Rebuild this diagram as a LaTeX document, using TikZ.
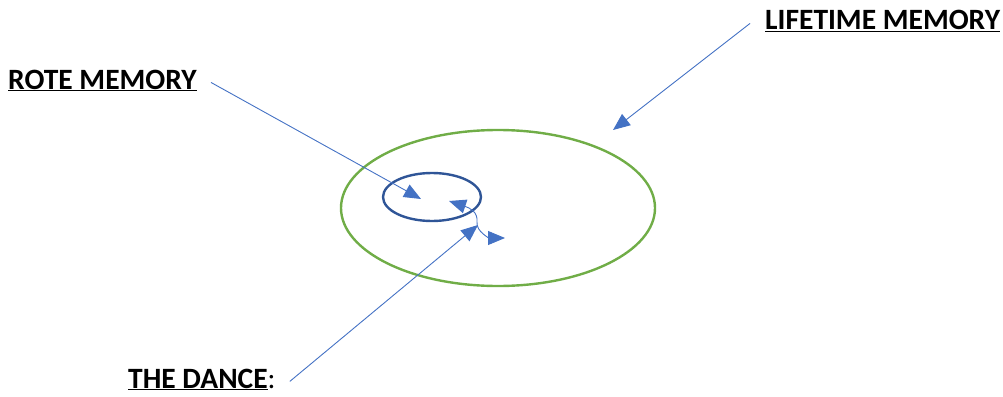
\documentclass[tikz,border=0pt]{standalone}
\usepackage{fontspec}
\setmainfont{Carlito}
\usepackage{tikz}
\usetikzlibrary{arrows.meta,positioning,calc}
\definecolor{lifegreen}{HTML}{70AD47}
\definecolor{rotenavy}{HTML}{2F5597}
\definecolor{pointblue}{HTML}{4472C4}

\begin{document}
\begin{tikzpicture}[x=1pt,y=-1pt,
	lbl/.style={font=\fontsize{29.5}{34}\selectfont\bfseries,inner sep=0pt,anchor=base west},
	ring/.style={line width=2.4pt},
	pointer/.style={draw=pointblue,line width=0.9pt,-{Triangle[length=17pt,width=14pt]}}
	]
	\useasboundingbox (0,0) rectangle (1003,396);
	% memory rings
	\draw[ring,draw=lifegreen] (498,208) ellipse [x radius=157,y radius=78];
	\draw[ring,draw=rotenavy] (432,197) ellipse [x radius=49,y radius=24];
	% labels
	\node[lbl] (rote) at (8,89) {\underline{ROTE MEMORY}};
	\node[lbl] (life) at (765,30) {\underline{LIFETIME MEMORY}};
	\node[lbl] (dance) at (128,388) {\underline{THE DANCE}\mdseries:};
	% arrow tips
	\coordinate (rotetip) at (421,199);
	\coordinate (lifetip) at (613,130);
	\coordinate (dancetip) at (478,225);
	\coordinate (loopa) at (449,201);
	\coordinate (loopb) at (505,238);
	% pointers
	\draw[pointer] ([xshift=14pt,yshift=-2pt]rote.east) -- (rotetip);
	\draw[pointer] ([xshift=-15pt,yshift=-2pt]life.west) -- (lifetip);
	\draw[pointer] ([xshift=14pt,yshift=-2pt]dance.east) -- (dancetip);
	\draw[pointer,{Triangle[length=17pt,width=14pt]}-{Triangle[length=17pt,width=14pt]}]
		(loopa) .. controls (470,208) and (478,212) .. (477,222)
		.. controls (476,232) and (490,238) .. (loopb);
\end{tikzpicture}
\end{document}
